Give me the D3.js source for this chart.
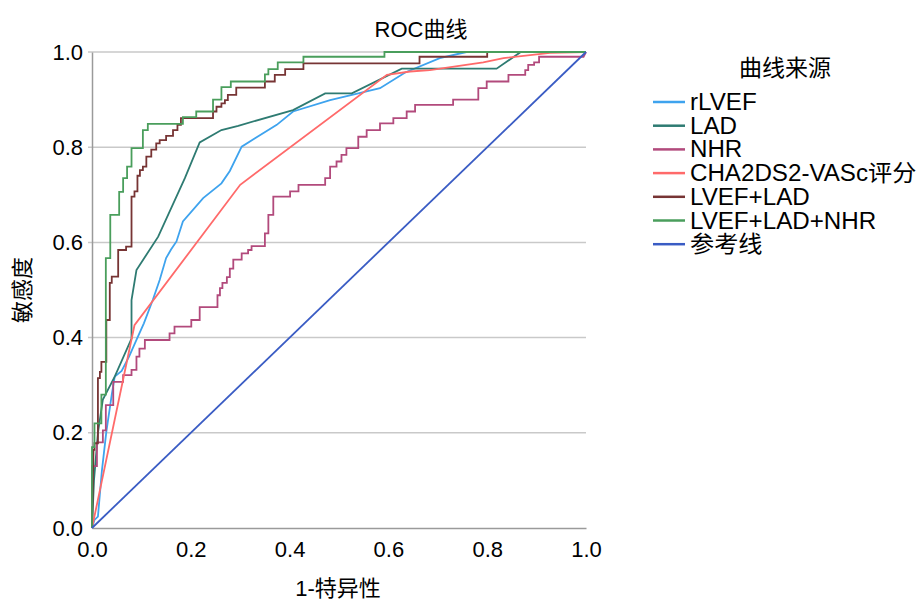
<!DOCTYPE html>
<html>
<head>
<meta charset="utf-8">
<script src="https://cdn.jsdelivr.net/npm/d3@7"></script>
<style>
  body { margin: 0; background: #fff; }
  text { font-family: "Liberation Sans", Arial, "Noto Sans CJK SC", sans-serif; fill: #000; }
</style>
</head>
<body>
<div id="chart"></div>
<script>
// ROC points [1-特异性, 敏感度]
const rLVEF = [[0,0],[0.005,0.017],[0.012,0.024],[0.020,0.12],[0.029,0.202],[0.040,0.28],[0.046,0.318],[0.060,0.33],[0.075,0.36],[0.090,0.395],[0.105,0.43],[0.123,0.479],[0.137,0.521],[0.150,0.567],[0.160,0.585],[0.171,0.602],[0.184,0.644],[0.225,0.693],[0.262,0.724],[0.279,0.75],[0.303,0.801],[0.330,0.819],[0.374,0.847],[0.407,0.875],[0.482,0.899],[0.539,0.913],[0.583,0.924],[0.634,0.957],[0.704,0.987],[0.758,1],[1,1]];
const LAD = [[0,0],[0.004,0.1],[0.012,0.2],[0.022,0.27],[0.046,0.318],[0.080,0.398],[0.080,0.479],[0.090,0.542],[0.134,0.612],[0.188,0.735],[0.218,0.810],[0.262,0.836],[0.296,0.845],[0.407,0.878],[0.472,0.913],[0.526,0.913],[0.627,0.965],[0.819,0.965],[0.868,1],[1,1]];
const NHR = [[0,0],[0,0.13],[0.01,0.13],[0.01,0.18],[0.022,0.18],[0.022,0.205],[0.028,0.205],[0.028,0.258],[0.043,0.258],[0.043,0.307],[0.063,0.307],[0.063,0.321],[0.08,0.321],[0.08,0.332],[0.09,0.332],[0.09,0.36],[0.096,0.36],[0.096,0.377],[0.107,0.377],[0.107,0.395],[0.157,0.395],[0.157,0.409],[0.167,0.409],[0.167,0.423],[0.201,0.423],[0.201,0.437],[0.218,0.437],[0.218,0.464],[0.254,0.464],[0.254,0.489],[0.259,0.489],[0.259,0.504],[0.264,0.504],[0.264,0.515],[0.273,0.515],[0.273,0.527],[0.279,0.527],[0.279,0.545],[0.286,0.545],[0.286,0.564],[0.303,0.564],[0.303,0.577],[0.316,0.577],[0.316,0.584],[0.323,0.584],[0.323,0.592],[0.350,0.592],[0.350,0.619],[0.357,0.619],[0.357,0.658],[0.367,0.658],[0.367,0.696],[0.401,0.696],[0.401,0.707],[0.418,0.707],[0.418,0.721],[0.472,0.721],[0.472,0.735],[0.482,0.735],[0.482,0.759],[0.495,0.759],[0.495,0.77],[0.505,0.77],[0.505,0.784],[0.515,0.784],[0.515,0.798],[0.539,0.798],[0.539,0.822],[0.556,0.822],[0.556,0.836],[0.583,0.836],[0.583,0.850],[0.610,0.850],[0.610,0.861],[0.637,0.861],[0.637,0.875],[0.654,0.875],[0.654,0.889],[0.731,0.889],[0.731,0.90],[0.782,0.90],[0.782,0.924],[0.799,0.924],[0.799,0.938],[0.843,0.938],[0.843,0.952],[0.877,0.952],[0.877,0.962],[0.883,0.962],[0.883,0.973],[0.895,0.973],[0.895,0.978],[0.905,0.978],[0.905,0.99],[0.995,0.99],[1,1]];
const CHA2DS2 = [[0,0],[0.086,0.426],[0.300,0.721],[0.597,0.952],[0.644,0.959],[0.684,0.962],[0.792,0.978],[0.833,0.987],[0.927,0.998],[1,1]];
const LVEF_LAD = [[0,0],[0.003,0.164],[0.005,0.164],[0.005,0.178],[0.012,0.178],[0.012,0.315],[0.016,0.315],[0.016,0.328],[0.019,0.328],[0.019,0.349],[0.029,0.349],[0.029,0.437],[0.036,0.437],[0.036,0.515],[0.04,0.515],[0.04,0.528],[0.053,0.528],[0.053,0.584],[0.069,0.584],[0.069,0.591],[0.08,0.591],[0.08,0.696],[0.086,0.696],[0.086,0.707],[0.092,0.707],[0.092,0.74],[0.097,0.74],[0.097,0.752],[0.103,0.752],[0.103,0.759],[0.110,0.759],[0.110,0.78],[0.120,0.78],[0.120,0.795],[0.130,0.795],[0.130,0.808],[0.137,0.808],[0.137,0.815],[0.150,0.815],[0.150,0.824],[0.164,0.824],[0.164,0.836],[0.173,0.836],[0.173,0.847],[0.180,0.847],[0.180,0.861],[0.245,0.861],[0.245,0.875],[0.252,0.875],[0.252,0.885],[0.262,0.885],[0.262,0.892],[0.269,0.892],[0.269,0.899],[0.275,0.899],[0.275,0.91],[0.292,0.91],[0.292,0.925],[0.350,0.925],[0.350,0.938],[0.370,0.938],[0.370,0.952],[0.391,0.952],[0.391,0.964],[0.428,0.964],[0.428,0.976],[0.663,0.976],[0.663,0.99],[0.80,0.99],[0.80,1],[1,1]];
const LVEF_LAD_NHR = [[0,0],[0,0.17],[0.005,0.17],[0.005,0.22],[0.019,0.22],[0.019,0.28],[0.028,0.28],[0.028,0.567],[0.037,0.567],[0.037,0.658],[0.055,0.658],[0.055,0.706],[0.063,0.706],[0.063,0.735],[0.071,0.735],[0.071,0.759],[0.08,0.759],[0.08,0.798],[0.103,0.798],[0.103,0.836],[0.113,0.836],[0.113,0.849],[0.184,0.849],[0.184,0.863],[0.211,0.863],[0.211,0.875],[0.245,0.875],[0.245,0.90],[0.262,0.90],[0.262,0.926],[0.281,0.926],[0.281,0.938],[0.350,0.938],[0.350,0.953],[0.357,0.953],[0.357,0.964],[0.376,0.964],[0.376,0.978],[0.428,0.978],[0.428,0.99],[0.592,0.99],[0.592,1],[1,1]];
const refLine = [[0,0],[1,1]];

const seriesNames = ["rLVEF", "LAD", "NHR", "CHA2DS2-VASc评分", "LVEF+LAD", "LVEF+LAD+NHR", "参考线"];
const seriesData = [rLVEF, LAD, NHR, CHA2DS2, LVEF_LAD, LVEF_LAD_NHR, refLine];
const seriesColors = ["#3ea3ee", "#2e7b72", "#b24a7c", "#ff6a6a", "#773434", "#4a9e5c", "#3a5cc4"];
const ticks = [0, 0.2, 0.4, 0.6, 0.8, 1.0];

const width = 917, height = 600;
const plot = {left: 92, right: 586, top: 52, bottom: 528};

const svg = d3.select("#chart").append("svg")
    .attr("width", width)
    .attr("height", height);

const x = d3.scaleLinear().domain([0, 1]).range([plot.left, plot.right]);
const y = d3.scaleLinear().domain([0, 1]).range([plot.bottom, plot.top]);

// gridlines
svg.append("g")
    .selectAll("line")
    .data(ticks.filter(d => d > 0))
    .enter().append("line")
    .attr("x1", plot.left - 4)
    .attr("x2", plot.right)
    .attr("y1", d => y(d))
    .attr("y2", d => y(d))
    .attr("stroke", "#c9c9c9")
    .attr("stroke-width", 1.5);

// axes
const yAxis = d3.axisLeft(y).tickValues(ticks).tickFormat(d3.format(".1f")).tickSize(0).tickPadding(9);
const xAxis = d3.axisBottom(x).tickValues(ticks).tickFormat(d3.format(".1f")).tickSize(0).tickPadding(13);

const gy = svg.append("g")
    .attr("transform", "translate(" + plot.left + ",0)")
    .call(yAxis);
const gx = svg.append("g")
    .attr("transform", "translate(0," + plot.bottom + ")")
    .call(xAxis);

[gx, gy].forEach(function (g) {
    g.select(".domain").attr("stroke", "#9a9a9a").attr("stroke-width", 1.5);
    g.selectAll("text")
        .style("font-family", "'Liberation Sans', Arial, sans-serif")
        .style("font-size", "22px")
        .attr("fill", "#000");
});

// curves
const line = d3.line()
    .x(d => x(d[0]))
    .y(d => y(d[1]));

svg.append("g")
    .selectAll("path")
    .data(seriesData)
    .enter().append("path")
    .attr("d", d => line(d))
    .attr("fill", "none")
    .attr("stroke", (d, i) => seriesColors[i])
    .attr("stroke-width", 1.8);

// titles
svg.append("text")
    .attr("x", 421)
    .attr("y", 37)
    .attr("text-anchor", "middle")
    .style("font-size", "22px")
    .text("ROC曲线");

svg.append("text")
    .attr("x", 338)
    .attr("y", 596)
    .attr("text-anchor", "middle")
    .style("font-size", "22px")
    .text("1-特异性");

svg.append("text")
    .attr("transform", "translate(30,290) rotate(-90)")
    .attr("text-anchor", "middle")
    .style("font-size", "22px")
    .text("敏感度");

// legend
const legend = svg.append("g").attr("transform", "translate(653,0)");

legend.append("text")
    .attr("x", 132)
    .attr("y", 76)
    .attr("text-anchor", "middle")
    .style("font-size", "23px")
    .text("曲线来源");

const items = legend.selectAll("g.item")
    .data(seriesNames)
    .enter().append("g")
    .attr("class", "item")
    .attr("transform", (d, i) => "translate(0," + (102 + i * 23.7) + ")");

items.append("line")
    .attr("x1", 0)
    .attr("x2", 32)
    .attr("stroke", (d, i) => seriesColors[i])
    .attr("stroke-width", 2.5);

// labels slightly widened like the reference
items.append("text")
    .attr("transform", "translate(37,8) scale(1.05,1)")
    .style("font-size", "23px")
    .text(d => d);
</script>
</body>
</html>
